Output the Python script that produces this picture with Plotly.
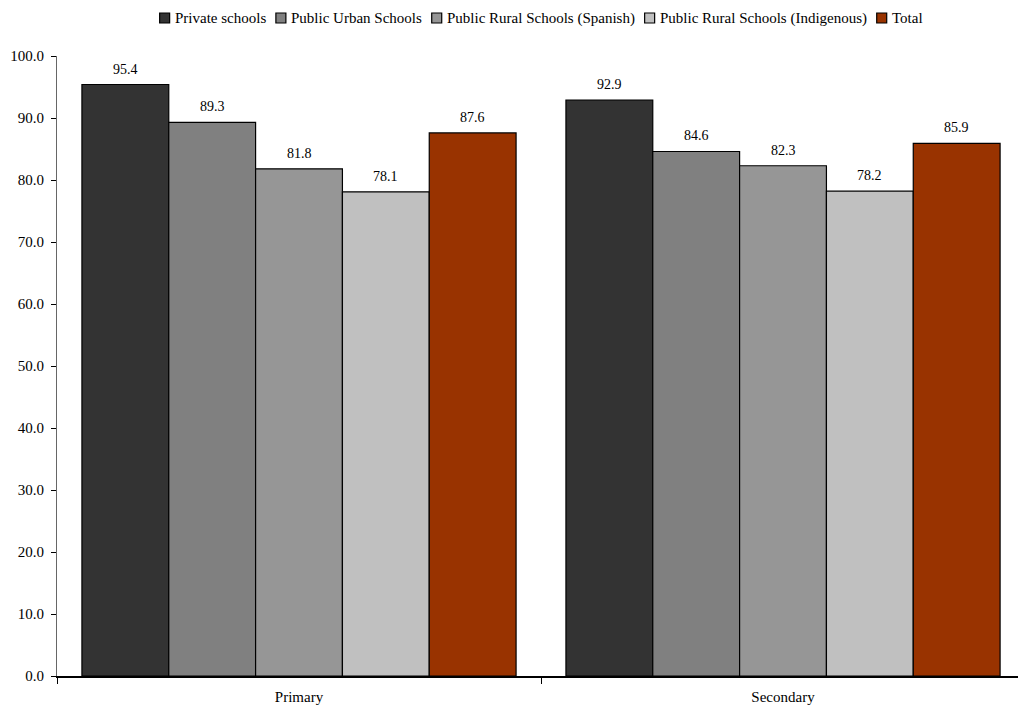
import plotly.graph_objects as go

categories = ["Primary", "Secondary"]
series_names = ["Private schools", "Public Urban Schools", "Public Rural Schools (Spanish)",
                "Public Rural Schools (Indigenous)", "Total"]
private_vals = [95.4, 92.9]
urban_vals = [89.3, 84.6]
rural_spanish_vals = [81.8, 82.3]
rural_indigenous_vals = [78.1, 78.2]
total_vals = [87.6, 85.9]
y_ticks = [0, 10, 20, 30, 40, 50, 60, 70, 80, 90, 100]

colors = ["#333333", "#808080", "#969696", "#C0C0C0", "#993300"]
all_vals = [private_vals, urban_vals, rural_spanish_vals, rural_indigenous_vals, total_vals]

FONT = "Liberation Serif, Times New Roman, serif"
W, H = 1018, 707
ML, MR, MT, MB = 57, 0, 56, 31
PW, PH = W - ML - MR, H - MT - MB
BARGAP = 0.103
XRANGE = [-0.5, 1.4855]

xpos = list(range(len(categories)))

fig = go.Figure()
for name, vals, col in zip(series_names, all_vals, colors):
    fig.add_trace(go.Bar(
        x=xpos, y=vals, name=name,
        marker=dict(color=col, line=dict(color="#000000", width=1.2)),
        showlegend=False,
    ))

# value labels above bars (positions follow the grouped-bar layout)
n = len(series_names)
bw = (1 - BARGAP) / n
annotations = []
for k, vals in enumerate(all_vals):
    off = -(1 - BARGAP) / 2 + (k + 0.5) * bw
    for i, v in enumerate(vals):
        annotations.append(dict(
            x=xpos[i] + off, y=v, xref="x", yref="y", text=f"{v:.1f}",
            showarrow=False, yanchor="bottom", xanchor="center", yshift=6,
            font=dict(family=FONT, size=14, color="#000000"),
        ))

# compact legend (Times-metric text width estimate), centred over the two categories
TW = {' ': .25, '(': .333, ')': .333, 'P': .556, 'S': .556, 'U': .722, 'R': .667, 'I': .333,
      'T': .611, 'a': .444, 'b': .5, 'c': .444, 'd': .5, 'e': .444, 'g': .5, 'h': .5, 'i': .278,
      'l': .278, 'n': .5, 'o': .5, 'p': .5, 'r': .333, 's': .389, 't': .278, 'u': .5, 'v': .5}
LFS = 15
SQ, GAP1, GAP2 = 10, 4, 11
widths = [sum(TW.get(c, .5) for c in s) * LFS for s in series_names]
total_w = sum(SQ + GAP1 + w for w in widths) + GAP2 * (n - 1)
mid_cat = (xpos[0] - 0.5 + xpos[-1] + 0.5) / 2
center_px = ML + (mid_cat - XRANGE[0]) / (XRANGE[1] - XRANGE[0]) * PW
x_px = center_px - total_w / 2
leg_y_px = 18
leg_y = 1 + (MT - leg_y_px) / PH
shapes = []
for name, col, w in zip(series_names, colors, widths):
    xp = (x_px - ML) / PW
    shapes.append(dict(
        type="rect", xref="paper", yref="paper", xsizemode="pixel", ysizemode="pixel",
        xanchor=xp, yanchor=leg_y, x0=0, x1=SQ, y0=-SQ / 2, y1=SQ / 2,
        fillcolor=col, line=dict(color="#000000", width=1.2),
    ))
    annotations.append(dict(
        x=(x_px + SQ + GAP1 - 1 - ML) / PW, y=leg_y, xref="paper", yref="paper",
        text=name, showarrow=False, xanchor="left", yanchor="middle",
        font=dict(family=FONT, size=LFS, color="#000000"),
    ))
    x_px += SQ + GAP1 + w + GAP2

fig.update_layout(
    width=W, height=H,
    margin=dict(l=ML, r=MR, t=MT, b=MB),
    paper_bgcolor="white", plot_bgcolor="white",
    barmode="group", bargap=BARGAP, bargroupgap=0,
    font=dict(family=FONT, size=15, color="#000000"),
    showlegend=False,
    annotations=annotations,
    shapes=shapes,
)
fig.update_xaxes(
    range=XRANGE, tickvals=xpos, ticktext=categories, ticks="",
    showline=True, linecolor="#000000", linewidth=1.5, showgrid=False, zeroline=False,
    tickfont=dict(family=FONT, size=15), ticklabelstandoff=6,
    minor=dict(tick0=0.5, dtick=1, ticks="outside", ticklen=6, tickcolor="#000000", showgrid=False),
)
fig.update_yaxes(
    range=[0, 100], tickvals=y_ticks, ticktext=[f"{v:.1f}" for v in y_ticks],
    ticks="outside", ticklen=5, tickcolor="#000000", ticklabelstandoff=4,
    showline=True, linecolor="#666666", linewidth=1, showgrid=False, zeroline=False,
    tickfont=dict(family=FONT, size=15),
)
fig.write_html("out.html")
